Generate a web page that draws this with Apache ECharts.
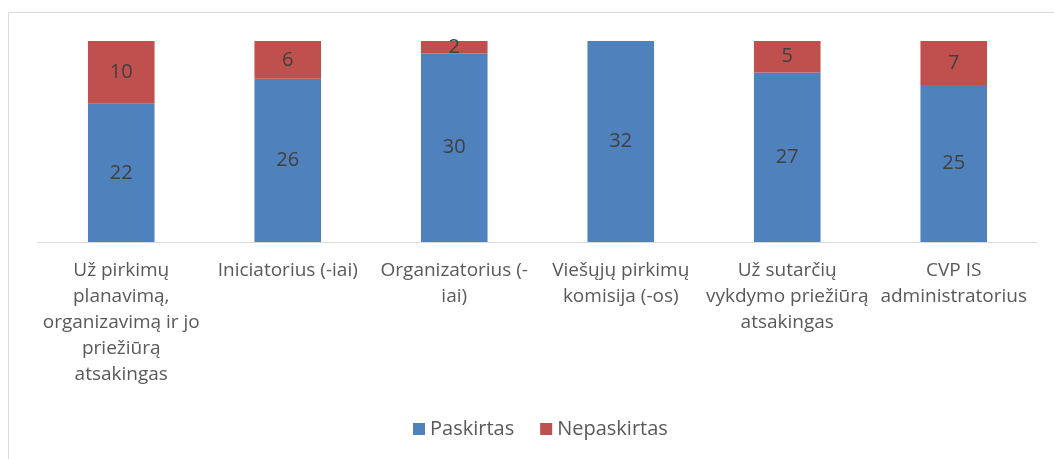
<!DOCTYPE html>
<html>
<head>
<meta charset="utf-8">
<script src="https://cdn.jsdelivr.net/npm/echarts@6/dist/echarts.min.js"></script>
<style>
  html, body { margin: 0; padding: 0; background: #fff; }
  #chart { width: 1054px; height: 459px; }
</style>
</head>
<body>
<div id="chart"></div>
<script>
// category labels keep the line breaks seen in the picture
const categories = [
  'Už pirkimų\nplanavimą,\norganizavimą ir jo\npriežiūrą\natsakingas',
  'Iniciatorius (-iai)',
  'Organizatorius (-\niai)',
  'Viešųjų pirkimų\nkomisija (-os)',
  'Už sutarčių\nvykdymo priežiūrą\natsakingas',
  'CVP IS\nadministratorius',
];
const paskirtas = [22, 26, 30, 32, 27, 25];
const nepaskirtas = [10, 6, 2, 0, 5, 7];

const FONT = '"Open Sans", Lato, sans-serif';
const BLUE = '#4F81BD';
const RED = '#C0504D';

const chart = echarts.init(document.getElementById('chart'), null, { renderer: 'canvas' });

const segLabel = {
  show: true, position: 'inside', color: '#404040', fontFamily: FONT, fontSize: 20,
  formatter: (p) => (p.value ? p.value : ''),
};

chart.setOption({
  animation: false,
  textStyle: { fontFamily: FONT },
  graphic: [{
    type: 'rect', silent: true,
    shape: { x: 8.5, y: 12.5, width: 1100, height: 500 },
    style: { fill: 'none', stroke: '#d9d9d9', lineWidth: 1 },
  }],
  grid: { left: 38, right: 17, top: 41, bottom: 217, containLabel: false },
  legend: {
    left: 408, top: 414, itemWidth: 12, itemHeight: 12, itemGap: 26,
    icon: 'rect',
    textStyle: { color: '#595959', fontFamily: FONT, fontSize: 20 },
    data: ['Paskirtas', 'Nepaskirtas'],
  },
  xAxis: {
    type: 'category', data: categories,
    axisLine: { lineStyle: { color: '#d9d9d9', width: 1 } },
    axisTick: { show: false },
    axisLabel: { color: '#595959', fontFamily: FONT, fontSize: 19, lineHeight: 26, interval: 0, margin: 16 },
  },
  yAxis: {
    type: 'value', min: 0, max: 32, show: false,
    splitLine: { show: false },
  },
  series: [
    { name: 'Paskirtas', type: 'bar', stack: 'total', barWidth: '40%', data: paskirtas,
      itemStyle: { color: BLUE }, label: segLabel },
    { name: 'Nepaskirtas', type: 'bar', stack: 'total', barWidth: '40%', data: nepaskirtas,
      itemStyle: { color: RED }, label: segLabel },
  ],
});
</script>
</body>
</html>
